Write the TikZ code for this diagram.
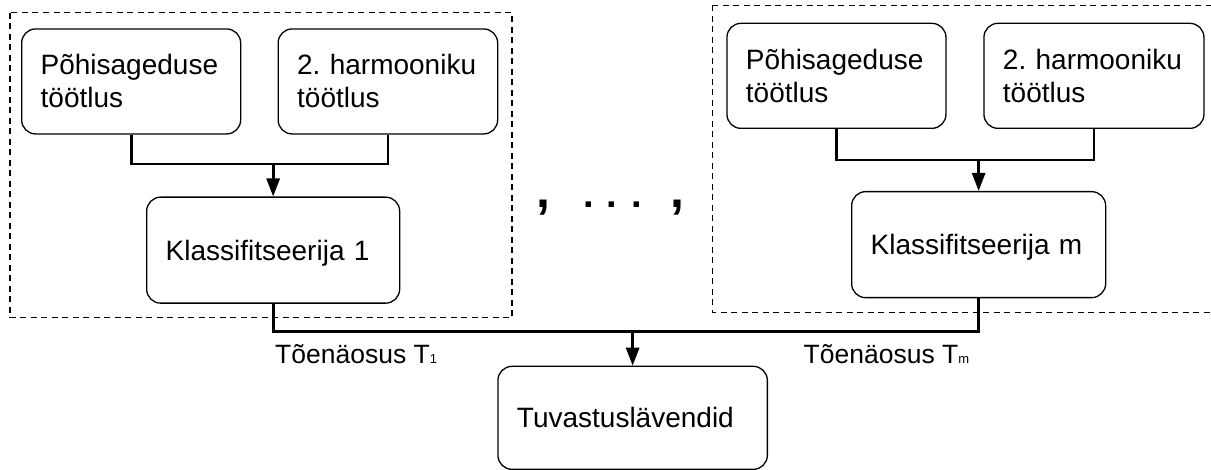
\documentclass[tikz,border=0pt]{standalone}
\usepackage{fontspec}
\setmainfont{Liberation Sans}
\usetikzlibrary{arrows.meta}
\newcommand\tinyidx[1]{{\fontsize{13}{13}\selectfont #1}}
\frenchspacing
\begin{document}
\begin{tikzpicture}[x=1pt,y=-1pt,
  blk/.style={draw=black, line width=1.3pt, rounded corners=14pt,
    anchor=north west, align=left, inner xsep=19pt, inner ysep=0pt,
    minimum height=105pt, font=\fontsize{28}{33}\selectfont},
  oneline/.style={blk, text depth=0pt},
  group/.style={draw=black, line width=1.1pt, dash pattern=on 6pt off 4.5pt},
  wire/.style={line width=2.7pt},
  arr/.style={wire, -{Triangle[length=18pt,width=13pt]}},
  lbl/.style={anchor=base west, inner sep=0pt, font=\fontsize{26.5}{30}\selectfont},
  comma/.style={anchor=base, inner sep=0pt, font=\fontsize{50}{50}\selectfont\bfseries},
  dot/.style={anchor=base, inner sep=0pt, font=\fontsize{38}{38}\selectfont\bfseries}]
\useasboundingbox (0,0) rectangle (1211,470);

% first classifier group
\draw[group] (10,12.7) rectangle (512,317.7);
\node[blk, text width=181pt] (p1) at (21,28.3) {Põhisageduse\\töötlus};
\node[blk, text width=181.5pt] (h1) at (277.5,28.3) {2. harmooniku\\töötlus};
\node[oneline, text width=215pt, minimum height=106pt] (k1) at (146,196.5) {Klassifitseerija 1};

% last classifier group
\draw[group] (712.7,5.3) rectangle (1217,312.3);
\node[blk, text width=181pt] (p2) at (726.3,22.7) {Põhisageduse\\töötlus};
\node[blk, text width=182pt] (h2) at (983.3,22.7) {2. harmooniku\\töötlus};
\node[oneline, text width=216pt, minimum height=106pt] (k2) at (851,191) {Klassifitseerija m};

% decision stage
\node[oneline, text width=231.4pt, minimum height=103pt] (tv) at (497.3,365.7) {Tuvastuslävendid};

% junction points
\path (k1.north) ++(0,-32.5) coordinate (j1);
\path (k2.north) ++(0,-31) coordinate (j2);
\path (tv.north) ++(0,-34.2) coordinate (bus);

% feature branches into each classifier
\draw[wire] (p1.south) |- (j1) -| (h1.south);
\draw[arr] (j1) -- (k1.north);
\draw[wire] (p2.south) |- (j2) -| (h2.south);
\draw[arr] (j2) -- (k2.north);

% classifier outputs into the thresholds
\draw[wire] (k1.south) |- (bus) -| (k2.south);
\draw[arr] (bus) -- (tv.north);

\node[lbl] (t1) at (275,364) {Tõenäosus T\tinyidx{1}};
\node[lbl] (tm) at (803.5,364) {Tõenäosus T\tinyidx{m}};

% ellipsis between the groups
\node[comma] (c1) at (543,208) {,};
\node[dot] (d1) at (588.5,208) {.};
\node[dot] (d2) at (611.8,208) {.};
\node[dot] (d3) at (636.5,208) {.};
\node[comma] (c2) at (677,208) {,};
\end{tikzpicture}
\end{document}
